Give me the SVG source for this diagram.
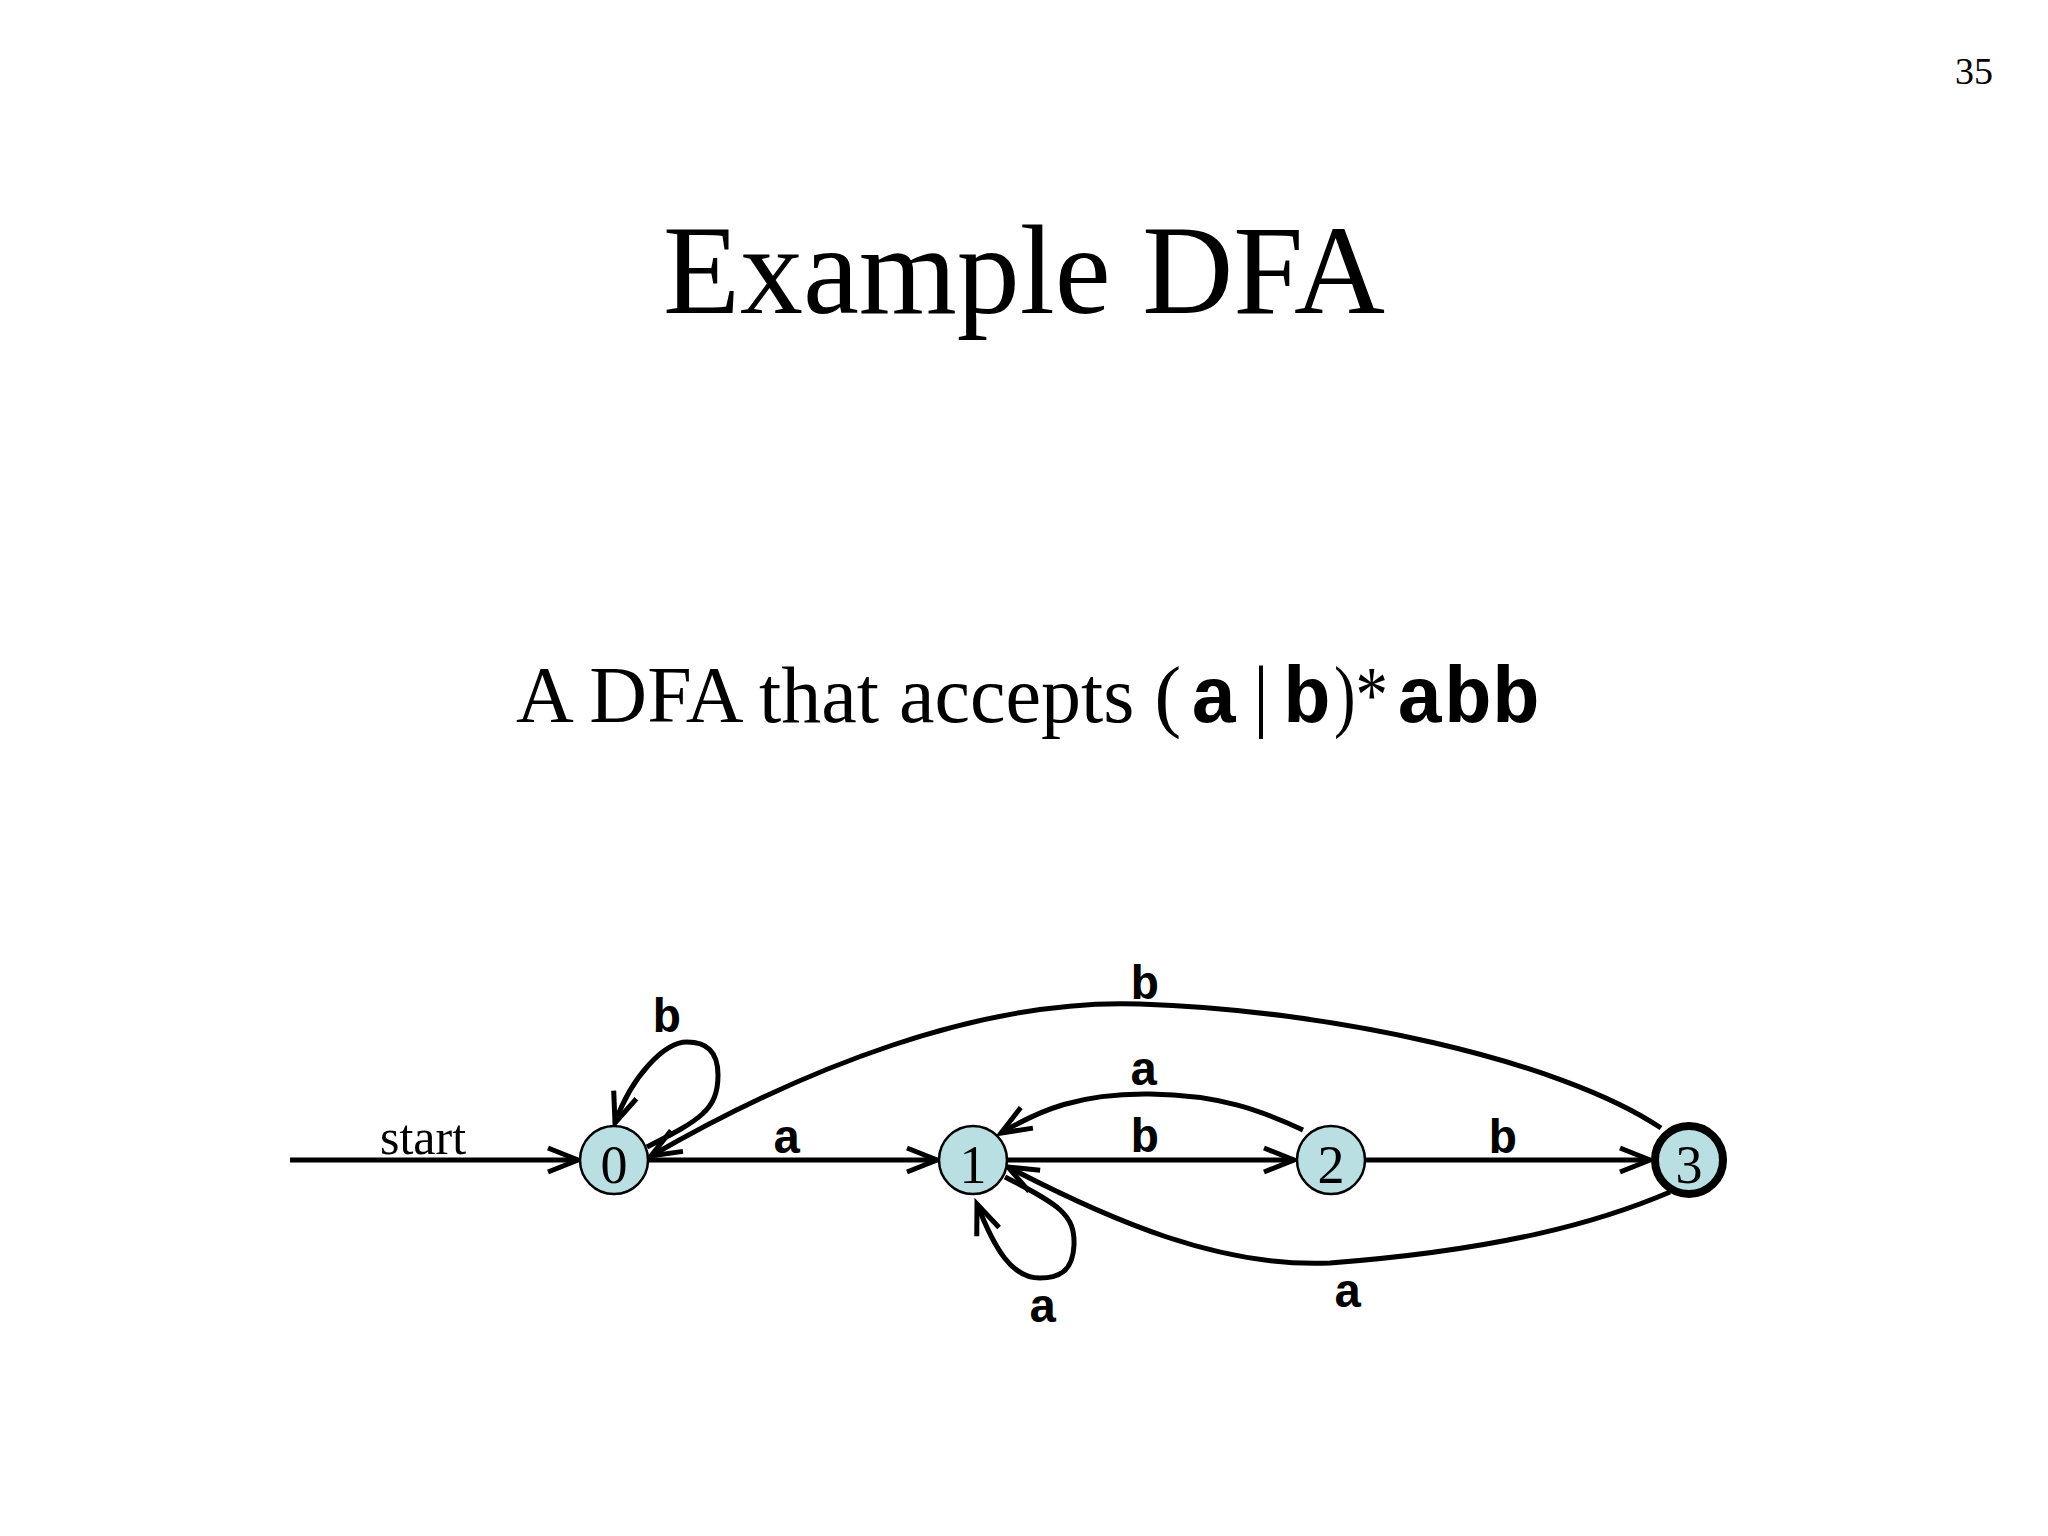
<svg xmlns="http://www.w3.org/2000/svg" width="2048" height="1536" viewBox="0 0 2048 1536">
<style>
.serif{font-family:"Liberation Serif","Times New Roman",serif;fill:#000}
.mono{font-family:"Liberation Mono","Courier New",monospace;font-weight:bold;fill:#000}
.edge{fill:none;stroke:#000;stroke-width:5;marker-end:url(#arr)}
.state{fill:#b9dfe3;stroke:#000;stroke-width:2.5}
.final{fill:#b9dfe3;stroke:#000;stroke-width:8}
.lbl{font-family:"Liberation Mono","Courier New",monospace;font-weight:bold;font-size:48px;text-anchor:middle;fill:#000}
.num{font-family:"Liberation Serif","Times New Roman",serif;font-size:54px;text-anchor:middle;fill:#000}
</style>
<defs>
<marker id="arr" markerUnits="userSpaceOnUse" markerWidth="44" markerHeight="36" refX="34" refY="16" orient="auto" overflow="visible">
<path d="M 4 4 L 34 16 L 4 28" fill="none" stroke="#000" stroke-width="5"/>
</marker>
</defs>
<rect width="2048" height="1536" fill="#fff"/>
<text class="serif" x="1955" y="84" font-size="38">35</text>
<text class="serif" x="1024" y="313" font-size="126" text-anchor="middle">Example DFA</text>
<g id="subtitle">
<text class="serif" x="516" y="722" font-size="80">A DFA that accepts (</text>
<text class="mono" x="1190" y="722" font-size="80">a</text>
<text class="serif" x="1261" y="722" font-size="80" text-anchor="middle">|</text>
<text class="mono" x="1283" y="722" font-size="80">b</text>
<text class="serif" x="1334" y="722" font-size="80" textLength="54" lengthAdjust="spacingAndGlyphs">)*</text>
<text class="mono" x="1396" y="722" font-size="80">abb</text>
</g>
<g id="connectors">
<path id="e-start" class="edge" d="M 290 1160 L 578 1160"/>
<path id="e-0-1" class="edge" d="M 648 1160 L 937 1160"/>
<path id="e-1-2" class="edge" d="M 1007 1160 L 1294 1160"/>
<path id="e-2-3" class="edge" d="M 1365 1160 L 1650 1160"/>
<path id="e-0-0" class="edge" d="M 647 1147 C 700 1120, 718 1110, 718 1075 C 718 1050, 705 1042, 687 1042 C 665 1042, 632 1075, 615 1123"/>
<path id="e-3-0" class="edge" d="M 1661 1128 C 1560 1060, 1330 1010, 1140 1004 C 980 998, 800 1070, 651 1156"/>
<path id="e-2-1" class="edge" d="M 1303 1130 C 1260 1110, 1220 1095, 1150 1094 C 1080 1093, 1040 1110, 1001 1133"/>
<path id="e-1-1" class="edge" d="M 1005 1177 C 1060 1205, 1075 1215, 1074 1245 C 1073 1272, 1058 1278, 1040 1278 C 1012 1278, 995 1250, 977 1204"/>
<path id="e-3-1" class="edge" d="M 1670 1192 C 1600 1222, 1500 1250, 1330 1263 C 1220 1268, 1110 1220, 1008 1167"/>
<text class="serif" x="423" y="1154" font-size="50" text-anchor="middle">start</text>
<text class="lbl" x="787" y="1153">a</text>
<text class="lbl" x="1145" y="1152">b</text>
<text class="lbl" x="1503" y="1153">b</text>
<text class="lbl" x="667" y="1032">b</text>
<text class="lbl" x="1145" y="999">b</text>
<text class="lbl" x="1144" y="1085">a</text>
<text class="lbl" x="1043" y="1322">a</text>
<text class="lbl" x="1348" y="1307">a</text>
</g>
<g id="s0"><circle class="state" cx="614" cy="1160" r="34"/><text class="num" x="614" y="1183">0</text></g>
<g id="s1"><circle class="state" cx="973" cy="1160" r="34"/><text class="num" x="973" y="1183">1</text></g>
<g id="s2"><circle class="state" cx="1331" cy="1160" r="34"/><text class="num" x="1331" y="1183">2</text></g>
<g id="s3"><circle class="final" cx="1689" cy="1160" r="34"/><text class="num" x="1689" y="1183">3</text></g>
</svg>
